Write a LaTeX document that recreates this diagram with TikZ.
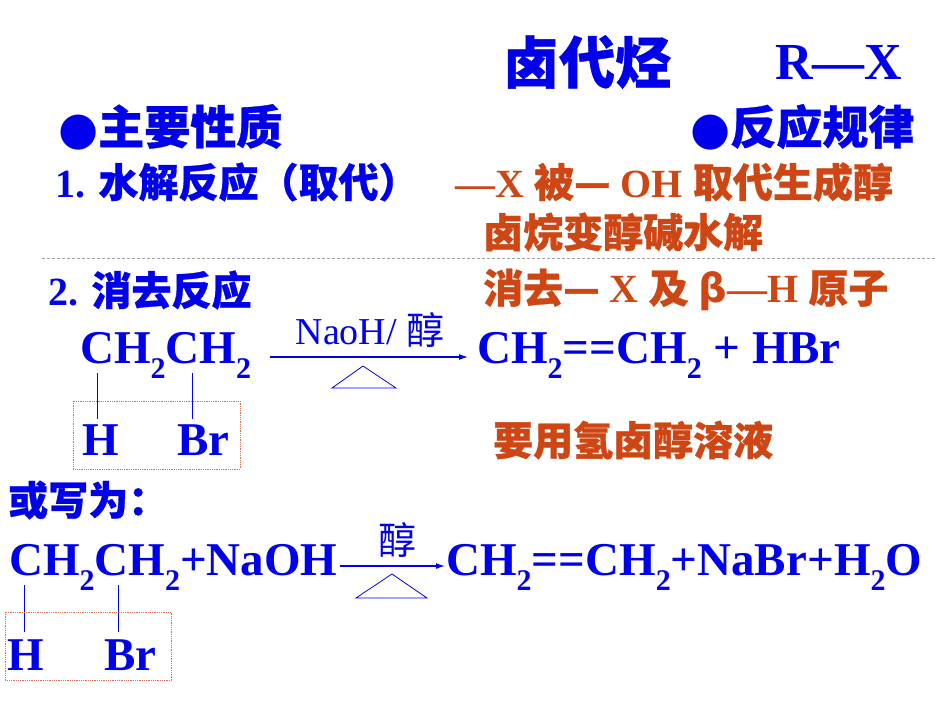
\documentclass[tikz,border=0pt]{standalone}
\usepackage{fontspec}
\usetikzlibrary{arrows.meta}
\setmainfont{Liberation Serif}
\newfontfamily\cjk{Noto Sans CJK SC}[FakeBold=0.8]
\newfontfamily\cjkr{Noto Sans CJK SC}
\newfontfamily\sym{DejaVu Sans}
\definecolor{tblue}{RGB}{0,0,235}
\definecolor{tred}{RGB}{205,70,20}
\definecolor{boxc}{RGB}{215,110,80}
\newcommand{\sbs}[1]{\raisebox{-0.32em}{\fontsize{30}{30}\selectfont #1}}
\begin{document}
\begin{tikzpicture}[x=1pt,y=-1pt,
  t/.style={anchor=west,inner sep=0pt,text=tblue,font=\bfseries\fontsize{40}{40}\selectfont},
  r/.style={anchor=west,inner sep=0pt,text=tred,font=\bfseries\fontsize{40}{40}\selectfont},
  chem/.style={anchor=west,inner sep=0pt,text=tblue,font=\bfseries\fontsize{47}{47}\selectfont},
  bond/.style={draw=tblue,line width=0.8pt},
  hbox/.style={draw=boxc,line width=0.8pt,densely dotted},
  arr/.style={draw=tblue,line width=1.2pt,-{Latex[length=9pt,width=6pt]}},
  tri/.style={draw=tblue,line width=0.8pt},
  cond/.style={inner sep=0pt,text=tblue,font=\fontsize{38}{38}\selectfont}]
\useasboundingbox (0,0) rectangle (950,713);
\node[t,font=\cjk\bfseries\fontsize{56}{56}\selectfont] (title) at (503,62) {卤代烃};
\node[t,font=\bfseries\fontsize{52}{52}\selectfont] (rx) at (775,62) {R—X};
\node[t,font=\cjk\bfseries\fontsize{46}{46}\selectfont] (h1) at (58,127) {{\sym●}主要性质};
\node[t,font=\cjk\bfseries\fontsize{46}{46}\selectfont] (h2) at (690,127) {{\sym●}反应规律};
\node[t] (l1) at (55,182) {1. {\cjk 水解反应（取代）}};
\node[r] (r1) at (455,182) {—X {\cjk 被—} OH {\cjk 取代生成醇}};
\node[r] (r2) at (483,232) {\cjk 卤烷变醇碱水解};
\draw[gray!70,densely dashed,line width=0.6pt] (42,258) -- (935,258);
\node[t] (l2) at (48,290) {2. {\cjk 消去反应}};
\node[r] (r3) at (483,290) {{\cjk 消去—} X {\cjk 及} {\sym β}—H {\cjk 原子}};
% reaction 1
\node[chem] (a1) at (80,355) {CH\sbs{2}CH\sbs{2}};
\coordinate (as) at (270,357); \coordinate (ae) at (468,357);
\draw[arr] (as) -- (ae);
\node[cond] (c1) at (370,330) {NaoH/ {\cjkr 醇}};
\coordinate (t1a) at (363,366); \coordinate (t1b) at (332,388); \coordinate (t1c) at (396,388);
\draw[tri] (t1a) -- (t1b) -- (t1c) -- cycle;
\node[chem] (p1) at (477,355) {CH\sbs{2}==CH\sbs{2} + HBr};
\node[chem] (hA) at (82,440) {H};
\node[chem] (brA) at (177,440) {Br};
\coordinate (b1t) at (97,373); \coordinate (b2t) at (192,373);
\draw[bond] (b1t) -- (97,419); \draw[bond] (b2t) -- (192,419);
\draw[hbox] (73,401) rectangle (240,469);
\node[r] (r4) at (493,440) {\cjk 要用氢卤醇溶液};
\node[t] (l3) at (8,500) {\cjk 或写为：};
% reaction 2
\node[chem] (a2) at (9,567) {CH\sbs{2}CH\sbs{2}+NaOH};
\coordinate (bs) at (340,566); \coordinate (be) at (445,566);
\draw[arr] (bs) -- (be);
\node[cond] (c2) at (397,540) {\cjkr 醇};
\coordinate (t2a) at (392,574); \coordinate (t2b) at (356,598); \coordinate (t2c) at (427,598);
\draw[tri] (t2a) -- (t2b) -- (t2c) -- cycle;
\node[chem] (p2) at (446,567) {CH\sbs{2}==CH\sbs{2}+NaBr+H\sbs{2}O};
\node[chem] (hB) at (7,655) {H};
\node[chem] (brB) at (104,655) {Br};
\draw[bond] (24,585) -- (24,632); \draw[bond] (118,585) -- (118,632);
\draw[hbox] (5,612) rectangle (171,680);
\end{tikzpicture}
\end{document}
